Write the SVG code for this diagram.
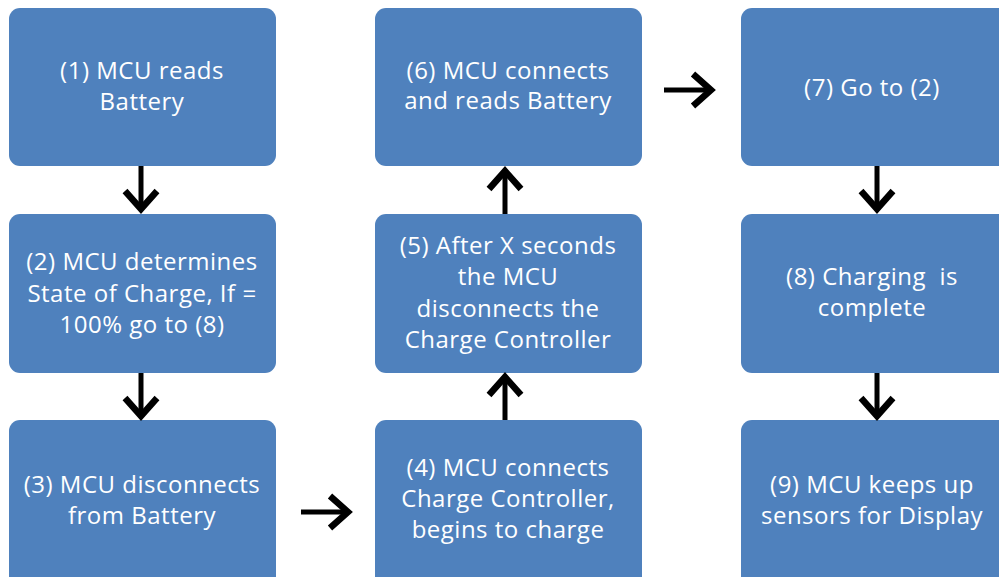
<svg xmlns="http://www.w3.org/2000/svg" width="999" height="577" viewBox="0 0 999 577">
  <defs>
    <style>
      .box { fill: #4F81BD; }
      .label { fill: #FFFFFF; font-family: "Open Sans", Lato, "Liberation Sans", sans-serif; font-size: 24px; letter-spacing: 0.5px; text-anchor: middle; }
      .arrow { fill: none; stroke: #000000; stroke-width: 5; stroke-linecap: butt; stroke-linejoin: miter; }
      .head { stroke-width: 6.5; }
    </style>
  </defs>
  <rect width="999" height="577" fill="#FFFFFF"/>

  <!-- column 1 -->
  <g id="node1">
    <rect class="box" x="9" y="8" width="267" height="158" rx="11"/>
    <text class="label" x="142" y="79">(1) MCU reads</text>
    <text class="label" x="142" y="110">Battery</text>
  </g>
  <g id="node2">
    <rect class="box" x="9" y="214" width="267" height="159" rx="11"/>
    <text class="label" x="142" y="270">(2) MCU determines</text>
    <text class="label" x="142" y="302">State of Charge, If =</text>
    <text class="label" x="142" y="333">100% go to (8)</text>
  </g>
  <g id="node3">
    <rect class="box" x="9" y="420" width="267" height="168" rx="11"/>
    <text class="label" x="142" y="493">(3) MCU disconnects</text>
    <text class="label" x="142" y="524">from Battery</text>
  </g>

  <!-- column 2 -->
  <g id="node4">
    <rect class="box" x="375" y="420" width="267" height="168" rx="11"/>
    <text class="label" x="508" y="476">(4) MCU connects</text>
    <text class="label" x="508" y="507">Charge Controller,</text>
    <text class="label" x="508" y="538">begins to charge</text>
  </g>
  <g id="node5">
    <rect class="box" x="375" y="214" width="267" height="159" rx="11"/>
    <text class="label" x="508" y="254">(5) After X seconds</text>
    <text class="label" x="508" y="285">the MCU</text>
    <text class="label" x="508" y="317">disconnects the</text>
    <text class="label" x="508" y="348">Charge Controller</text>
  </g>
  <g id="node6">
    <rect class="box" x="375" y="8" width="267" height="158" rx="11"/>
    <text class="label" x="508" y="79">(6) MCU connects</text>
    <text class="label" x="508" y="109">and reads Battery</text>
  </g>

  <!-- column 3 -->
  <g id="node7">
    <rect class="box" x="741" y="8" width="270" height="158" rx="11"/>
    <text class="label" x="872" y="96">(7) Go to (2)</text>
  </g>
  <g id="node8">
    <rect class="box" x="741" y="214" width="270" height="159" rx="11"/>
    <text class="label" x="872" y="285" xml:space="preserve">(8) Charging  is</text>
    <text class="label" x="872" y="316">complete</text>
  </g>
  <g id="node9">
    <rect class="box" x="741" y="420" width="270" height="168" rx="11"/>
    <text class="label" x="872" y="493">(9) MCU keeps up</text>
    <text class="label" x="872" y="524">sensors for Display</text>
  </g>

  <!-- connectors: shaft plus open chevron head -->
  <g id="connectors" class="arrow">
    <path d="M141 166 V210"/>
    <path class="head" d="M125 191 L141 209 L157 191"/>
    <path d="M141 373 V417"/>
    <path class="head" d="M125 398 L141 416 L157 398"/>
    <path d="M301 512 H346"/>
    <path class="head" d="M330 496 L348 512 L330 528"/>
    <path d="M505 214 V170"/>
    <path class="head" d="M489 189 L505 171 L521 189"/>
    <path d="M505 420 V376"/>
    <path class="head" d="M489 395 L505 377 L521 395"/>
    <path d="M664 90 H709"/>
    <path class="head" d="M693 74 L711 90 L693 106"/>
    <path d="M877 166 V210"/>
    <path class="head" d="M861 191 L877 209 L893 191"/>
    <path d="M877 373 V417"/>
    <path class="head" d="M861 398 L877 416 L893 398"/>
  </g>
</svg>
